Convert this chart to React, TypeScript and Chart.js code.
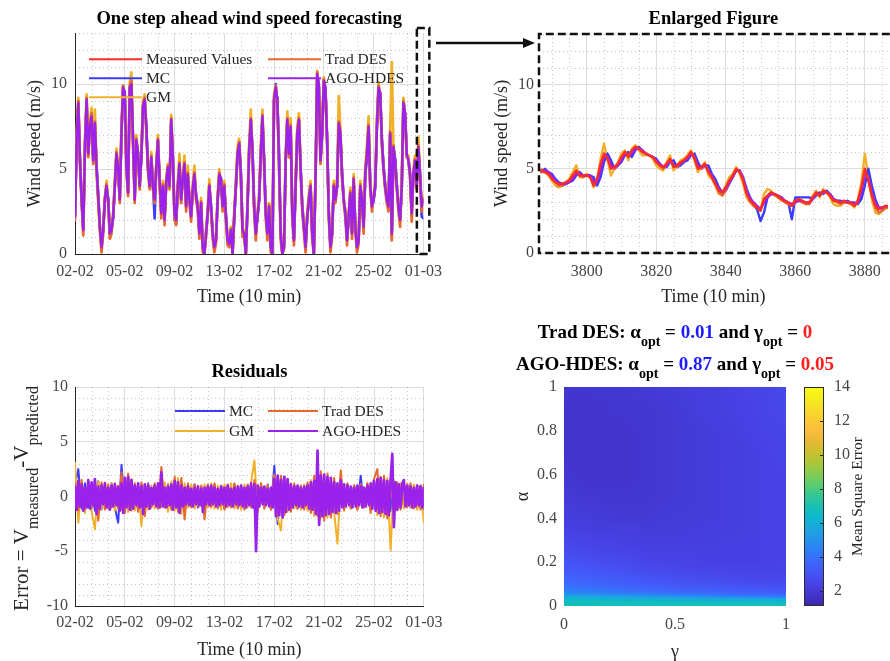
import React, { useEffect, useRef } from 'react';
import { Chart, registerables } from 'chart.js';

Chart.register(...registerables);

const SERIF = '"Liberation Serif", "Times New Roman", Times, serif';
const TXT = '#262626';
const TICK = '#454545';
const GRID_MAJOR = '#dddddd';
const GRID_MINOR = 'rgba(0,0,0,0.22)';

const C_MEASURED = '#ff2a2a';
const C_TRAD = '#e8692c';
const C_MC = '#3c3cff';
const C_AGO = '#9a22ea';
const C_GM = '#f0b02a';

// ---------- axis ticks ----------
const dateLabels = ['02-02', '05-02', '09-02', '13-02', '17-02', '21-02', '25-02', '01-03'];
const dateTicks = [0, 1, 2, 3, 4, 5, 6, 7];
const speedTicks = [0, 5, 10];
const residTicks = [-10, -5, 0, 5, 10];
const zoomTicks = [3800, 3820, 3840, 3860, 3880];
const gammaTicks = [0, 0.5, 1];
const alphaTicks = [0, 0.2, 0.4, 0.6, 0.8, 1];
const mseTicks = [2, 4, 6, 8, 10, 12, 14];

// ---------- one step ahead forecasting (wind speed, m/s), day axis 0..7 ----------
const wsAgoHdes = [
  2.2, 6.7, 8.9, 5.5, 3.2, 1.4, 6.3, 9.1, 5.9, 7.5,
  8.1, 5.5, 7.7, 5.1, 3.4, 1.6, 0.4, 1.4, 3.2, 4.0,
  3.2, 1.2, 1.4, 2.2, 4.0, 5.9, 5.1, 3.2, 7.1, 9.8,
  9.5, 5.1, 3.6, 9.8, 10.0, 6.7, 3.2, 6.7, 5.9, 4.0,
  5.7, 8.7, 9.1, 7.5, 5.1, 4.0, 5.7, 4.0, 3.2, 5.1,
  6.7, 4.4, 2.4, 4.0, 2.0, 4.2, 5.1, 4.0, 7.9, 5.7,
  2.4, 2.0, 4.0, 5.3, 3.2, 4.4, 5.3, 2.8, 4.7, 3.2,
  2.2, 3.8, 4.7, 3.4, 2.8, 1.2, 3.0, 0.4, 0.0, 1.2,
  2.4, 4.0, 2.8, 1.2, 0.4, 0.8, 3.2, 4.7, 4.4, 2.8,
  4.0, 2.2, 0.8, 0.6, 1.4, 0.0, 2.2, 4.0, 5.9, 6.5,
  4.7, 1.4, 1.2, 0.0, 2.8, 6.1, 7.9, 6.1, 2.8, 1.2,
  2.2, 3.2, 5.9, 8.1, 5.5, 2.4, 1.2, 2.8, 0.4, 0.0,
  9.1, 9.8, 9.1, 5.5, 1.2, 0.0, 0.4, 5.5, 7.9, 5.9,
  7.5, 2.4, 0.8, 4.0, 7.1, 7.9, 5.1, 2.8, 1.6, 0.4,
  2.2, 3.2, 4.0, 1.2, 0.0, 4.4, 10.6, 10.0, 5.5, 7.1,
  10.2, 9.8, 6.7, 2.4, 0.4, 1.2, 4.0, 3.2, 4.0, 7.7,
  7.1, 4.7, 3.2, 2.4, 0.8, 2.2, 3.6, 1.2, 4.4, 1.6,
  0.4, 0.8, 4.0, 3.2, 1.6, 4.7, 5.9, 7.5, 4.0, 2.8,
  3.2, 4.0, 7.5, 9.8, 9.5, 6.7, 5.1, 4.0, 3.2, 2.8,
  7.1, 1.2, 6.3, 5.5, 4.0, 2.8, 2.0, 4.0, 8.9, 8.3,
  5.9, 5.5, 4.7, 2.4, 4.7, 5.5, 4.0, 6.3, 4.7, 2.8,
  3.2,
];
const wsMeasured = [
  2.2, 6.7, 8.8, 5.5, 3.2, 1.4, 6.3, 9.0, 5.9, 7.5,
  8.1, 5.5, 7.7, 5.1, 3.4, 1.6, 0.4, 1.4, 3.2, 4.0,
  3.2, 1.2, 1.4, 2.2, 4.0, 5.9, 5.1, 3.2, 7.1, 9.7,
  9.5, 5.1, 3.6, 9.8, 9.8, 6.7, 3.2, 6.7, 5.9, 4.0,
  5.7, 8.7, 9.0, 7.5, 5.1, 4.0, 5.7, 4.0, 3.2, 5.1,
  6.7, 4.4, 2.4, 4.0, 2.0, 4.2, 5.1, 4.0, 7.8, 5.7,
  2.4, 2.0, 4.0, 5.3, 3.2, 4.4, 5.3, 2.8, 4.7, 3.2,
  2.2, 3.8, 4.7, 3.4, 2.8, 1.2, 3.0, 0.4, 0.0, 1.2,
  2.4, 4.0, 2.8, 1.2, 0.4, 0.8, 3.2, 4.7, 4.4, 2.8,
  4.0, 2.2, 0.8, 0.6, 1.4, 0.0, 2.2, 4.0, 5.9, 6.5,
  4.7, 1.4, 1.2, 0.0, 2.8, 6.1, 7.9, 6.1, 2.8, 1.2,
  2.2, 3.2, 5.9, 8.0, 5.5, 2.4, 1.2, 2.8, 0.4, 0.0,
  9.0, 9.7, 9.1, 5.5, 1.2, 0.0, 0.4, 5.5, 7.9, 5.9,
  7.5, 2.4, 0.8, 4.0, 7.1, 7.9, 5.1, 2.8, 1.6, 0.4,
  2.2, 3.2, 4.0, 1.2, 0.0, 4.4, 10.3, 10.0, 5.5, 7.1,
  10.1, 9.8, 6.7, 2.4, 0.4, 1.2, 4.0, 3.2, 4.0, 7.7,
  7.1, 4.7, 3.2, 2.4, 0.8, 2.2, 3.6, 1.2, 4.4, 1.6,
  0.4, 0.8, 4.0, 3.2, 1.6, 4.7, 5.9, 7.5, 4.0, 2.8,
  3.2, 4.0, 7.5, 9.7, 9.5, 6.7, 5.1, 4.0, 3.2, 2.8,
  7.1, 1.0, 6.3, 5.5, 4.0, 2.8, 2.0, 4.0, 8.8, 8.3,
  5.9, 5.5, 4.7, 2.4, 4.7, 5.5, 4.0, 6.3, 4.7, 2.8,
  3.2,
];
const wsGm = [
  4.5, 6.9, 9.2, 5.4, 3.1, 1.5, 6.6, 9.4, 5.8, 7.7,
  8.6, 5.3, 8.5, 5.0, 3.2, 1.6, 0.5, 1.6, 3.3, 4.3,
  3.0, 1.3, 1.5, 2.4, 4.2, 6.2, 4.9, 3.3, 7.5, 9.9,
  9.4, 4.9, 3.8, 10.1, 10.7, 6.4, 3.3, 7.0, 5.7, 4.1,
  6.0, 9.0, 9.4, 7.2, 4.9, 4.1, 6.0, 3.9, 3.3, 5.4,
  7.0, 4.2, 2.5, 4.3, 2.1, 4.5, 5.3, 3.9, 8.2, 5.5,
  2.5, 2.1, 4.3, 5.9, 3.1, 4.7, 5.8, 2.7, 5.2, 3.1,
  2.3, 4.1, 5.2, 3.2, 2.9, 1.3, 3.3, 0.5, 0.1, 1.4,
  2.6, 4.4, 2.6, 1.3, 0.5, 1.0, 3.5, 5.0, 4.2, 2.9,
  4.3, 2.1, 0.9, 0.7, 1.6, 0.1, 2.5, 4.3, 6.3, 6.8,
  4.5, 1.5, 1.4, 0.1, 3.1, 6.5, 8.5, 5.9, 2.7, 1.3,
  2.4, 3.5, 6.3, 8.5, 5.2, 2.5, 1.4, 3.0, 0.5, 0.1,
  9.4, 9.9, 8.8, 5.2, 1.3, 0.1, 0.6, 5.9, 8.4, 5.7,
  8.0, 2.3, 1.0, 4.3, 7.5, 8.3, 4.9, 2.9, 1.8, 0.5,
  2.4, 3.5, 4.3, 1.3, 0.1, 4.8, 10.8, 9.8, 5.3, 7.5,
  10.4, 9.6, 6.4, 2.5, 0.5, 1.4, 4.3, 3.1, 4.4, 9.3,
  7.4, 4.5, 3.3, 2.5, 1.0, 2.4, 3.9, 1.3, 4.7, 1.7,
  0.5, 1.0, 4.3, 3.1, 1.8, 5.1, 6.4, 8.1, 3.8, 2.9,
  3.4, 4.3, 8.0, 10.1, 9.3, 6.4, 5.0, 4.1, 3.0, 3.0,
  7.4, 11.3, 6.0, 5.3, 4.2, 2.7, 2.2, 4.4, 9.2, 8.1,
  5.7, 5.8, 4.5, 2.5, 5.0, 5.8, 3.9, 6.9, 4.5, 2.9,
  3.4,
];
const wsTradDes = [
  2.0, 6.8, 9.0, 5.3, 3.0, 1.1, 6.4, 9.2, 5.7, 7.6,
  8.3, 5.3, 7.8, 4.9, 3.1, 1.3, 0.1, 1.2, 3.3, 4.1,
  3.0, 0.9, 1.2, 2.3, 4.1, 6.0, 4.9, 3.0, 7.2, 9.9,
  9.4, 4.9, 3.4, 9.9, 10.2, 6.5, 3.0, 6.8, 5.7, 3.8,
  5.8, 8.8, 9.2, 7.3, 4.9, 3.8, 5.8, 3.8, 3.0, 5.2,
  6.8, 4.2, 2.1, 4.1, 1.7, 4.3, 5.2, 3.8, 8.0, 5.5,
  2.1, 1.7, 4.1, 5.4, 3.0, 4.5, 5.4, 2.5, 4.8, 3.0,
  1.9, 3.9, 4.8, 3.2, 2.5, 0.9, 3.1, 0.1, 0.0, 1.0,
  2.5, 4.1, 2.5, 0.9, 0.1, 0.6, 3.3, 4.8, 4.2, 2.5,
  4.1, 1.9, 0.5, 0.4, 1.5, 0.0, 2.3, 4.1, 6.0, 6.6,
  4.5, 1.0, 1.0, 0.0, 2.9, 6.2, 8.0, 5.9, 2.5, 0.8,
  2.3, 3.3, 6.0, 8.2, 5.3, 2.1, 0.8, 2.9, 0.1, 0.0,
  9.2, 9.9, 8.9, 5.3, 0.8, 0.0, 0.3, 5.6, 8.0, 5.7,
  7.6, 2.1, 0.5, 4.1, 7.2, 8.0, 4.9, 2.5, 1.3, 0.1,
  2.3, 3.3, 4.1, 0.8, 0.0, 4.5, 10.7, 9.8, 5.3, 7.2,
  10.3, 9.6, 6.5, 2.1, 0.1, 1.0, 4.1, 3.0, 4.1, 7.8,
  7.2, 4.5, 3.0, 2.1, 0.5, 2.3, 3.7, 0.9, 4.5, 1.3,
  0.1, 0.6, 4.1, 3.0, 1.2, 4.8, 6.0, 7.6, 3.8, 2.5,
  3.3, 4.1, 7.6, 9.9, 9.3, 6.5, 4.9, 3.8, 3.0, 2.5,
  7.2, 0.8, 6.4, 5.3, 3.8, 2.5, 1.6, 4.1, 9.0, 8.1,
  5.7, 5.6, 4.5, 1.9, 4.8, 5.6, 3.8, 6.4, 4.5, 2.5,
  3.3,
];
const wsMc = [
  2.3, 6.6, 9.0, 5.6, 3.3, 1.5, 6.2, 9.0, 6.0, 7.4,
  8.0, 5.6, 7.6, 5.2, 3.5, 1.7, 0.5, 1.5, 3.1, 3.9,
  3.3, 1.3, 1.5, 2.1, 3.9, 5.8, 5.2, 3.3, 7.0, 9.9,
  9.4, 5.2, 3.7, 9.7, 9.9, 6.8, 3.3, 6.6, 6.0, 4.1,
  5.6, 8.6, 9.2, 7.4, 5.2, 4.1, 5.6, 4.1, 2.1, 5.0,
  6.6, 4.5, 2.5, 3.9, 2.1, 4.1, 5.0, 4.1, 7.8, 5.8,
  2.0, 1.8, 3.9, 5.2, 3.3, 4.3, 5.2, 2.9, 4.6, 3.3,
  2.3, 3.7, 4.6, 3.5, 2.9, 1.3, 2.9, 0.5, 0.1, 1.3,
  2.3, 3.9, 2.9, 1.3, 0.5, 0.9, 3.1, 4.6, 4.5, 2.9,
  3.9, 2.3, 0.9, 0.7, 1.5, 0.1, 2.1, 3.9, 5.8, 6.4,
  4.8, 1.5, 1.3, 0.1, 2.7, 6.0, 7.8, 6.2, 2.9, 1.3,
  2.1, 3.1, 5.8, 8.0, 5.6, 2.5, 1.3, 2.7, 0.5, 0.1,
  9.0, 10.0, 9.0, 6.1, 1.3, 0.1, 0.5, 5.4, 7.8, 6.4,
  7.4, 2.5, 0.9, 3.9, 7.0, 7.8, 5.2, 2.9, 1.7, 0.5,
  2.1, 3.1, 4.1, 1.3, 0.1, 4.3, 10.5, 9.9, 5.6, 7.0,
  10.1, 9.7, 6.8, 2.5, 0.5, 1.3, 3.9, 3.3, 3.9, 7.6,
  7.0, 4.8, 3.3, 2.5, 0.9, 2.1, 3.5, 1.3, 4.3, 1.7,
  0.5, 0.9, 3.9, 3.3, 1.7, 4.6, 5.8, 7.4, 4.1, 2.9,
  3.1, 3.9, 7.4, 9.7, 9.4, 6.8, 5.2, 4.1, 3.3, 2.9,
  7.0, 1.3, 6.2, 5.6, 4.1, 2.9, 2.1, 3.9, 9.1, 8.2,
  5.8, 5.6, 4.8, 2.5, 4.6, 5.6, 4.1, 6.2, 4.8, 2.2,
  2.1,
];
const zoomBoxDays = [6.87, 7.12];
const zoomBoxTop = 13.3;

// ---------- enlarged window (time index 3787..3887, m/s) ----------
const zoomStart = 3787;
const zoomEnd = 3887;
const zMeasured = [
  4.9, 4.8, 4.7, 4.4, 4.2, 4.1, 4.1, 4.2, 4.3, 4.6,
  4.9, 4.6, 4.6, 4.6, 4.5, 4.0, 4.4, 5.3, 5.9, 5.6,
  5.0, 5.1, 5.3, 5.7, 6.0, 5.7, 6.1, 6.3, 6.2, 6.0,
  5.9, 5.8, 5.7, 5.4, 5.2, 5.1, 5.3, 5.6, 5.1, 5.2,
  5.4, 5.5, 5.7, 6.0, 5.6, 5.0, 5.1, 5.3, 4.8, 4.5,
  4.1, 3.7, 3.6, 3.9, 4.3, 4.6, 5.0, 4.8, 4.3, 3.5,
  3.1, 2.9, 2.7, 2.5, 3.2, 3.4, 3.6, 3.5, 3.4, 3.2,
  3.1, 3.0, 2.8, 3.1, 3.2, 3.1, 3.0, 3.0, 3.3, 3.6,
  3.4, 3.7, 3.6, 3.4, 3.1, 3.1, 3.0, 3.1, 3.0, 3.0,
  2.8, 3.1, 3.9, 5.0, 4.3, 3.4, 2.8, 2.6, 2.7, 2.8,
  2.7,
];
const zAgoHdes = [
  4.9, 4.9, 4.8, 4.6, 4.3, 4.1, 4.1, 4.1, 4.2, 4.4,
  4.7, 4.7, 4.6, 4.6, 4.6, 4.2, 4.2, 4.9, 5.7, 5.7,
  5.2, 5.1, 5.2, 5.5, 5.9, 5.8, 5.9, 6.2, 6.2, 6.1,
  5.9, 5.8, 5.7, 5.5, 5.3, 5.1, 5.2, 5.5, 5.2, 5.2,
  5.3, 5.5, 5.6, 5.9, 5.7, 5.2, 5.1, 5.2, 4.9, 4.6,
  4.2, 3.8, 3.6, 3.8, 4.2, 4.5, 4.9, 4.9, 4.4, 3.7,
  3.2, 3.0, 2.8, 2.6, 3.0, 3.3, 3.5, 3.5, 3.4, 3.3,
  3.1, 3.0, 2.9, 3.0, 3.1, 3.1, 3.0, 3.0, 3.2, 3.5,
  3.5, 3.6, 3.6, 3.5, 3.2, 3.1, 3.0, 3.1, 3.0, 3.0,
  2.9, 3.0, 3.6, 4.7, 4.4, 3.6, 3.0, 2.7, 2.7, 2.8,
  2.8,
];
const zMc = [
  4.8, 5.0, 4.8, 4.7, 4.4, 4.2, 4.1, 4.1, 4.2, 4.3,
  4.6, 4.8, 4.6, 4.6, 4.6, 4.5, 4.0, 4.5, 5.4, 5.9,
  5.5, 5.0, 5.2, 5.4, 5.8, 6.0, 5.7, 6.1, 6.3, 6.1,
  5.9, 5.8, 5.7, 5.6, 5.3, 5.1, 5.1, 5.4, 5.5, 5.1,
  5.2, 5.4, 5.5, 5.8, 5.9, 5.4, 5.0, 5.2, 5.2, 4.7,
  4.4, 3.9, 3.6, 3.7, 4.1, 4.5, 4.9, 4.9, 4.5, 3.8,
  3.3, 2.9, 2.6, 1.9, 2.4, 3.3, 3.5, 3.5, 3.4, 3.3,
  3.1, 3.0, 2.0, 3.3, 3.3, 3.3, 3.3, 3.3, 3.2, 3.4,
  3.6, 3.5, 3.7, 3.5, 3.2, 3.1, 3.1, 3.0, 3.1, 3.0,
  3.0, 2.9, 3.2, 4.0, 5.0, 4.0, 3.2, 2.7, 2.6, 2.7,
  2.8,
];
const zGm = [
  5.0, 4.8, 4.6, 4.3, 4.0, 3.9, 4.0, 4.2, 4.4, 4.8,
  5.2, 4.5, 4.5, 4.7, 4.6, 3.9, 4.2, 5.6, 6.5, 5.5,
  4.6, 5.0, 5.4, 5.9, 6.1, 5.5, 6.2, 6.4, 6.1, 5.8,
  5.8, 5.8, 5.6, 5.2, 5.0, 4.9, 5.4, 5.8, 4.9, 5.2,
  5.5, 5.6, 5.8, 6.1, 5.5, 4.8, 5.1, 5.4, 4.6, 4.4,
  4.0, 3.5, 3.5, 4.0, 4.5, 4.7, 5.1, 4.7, 4.1, 3.3,
  3.0, 2.8, 2.6, 2.6, 3.5, 3.8, 3.7, 3.4, 3.3, 3.1,
  3.1, 2.9, 2.8, 3.2, 3.2, 3.0, 2.9, 2.9, 3.4, 3.7,
  3.3, 3.8, 3.6, 3.3, 2.9, 2.8, 2.8, 3.0, 3.0, 2.9,
  2.7, 3.2, 4.2, 5.9, 4.5, 3.2, 2.4, 2.3, 2.5, 2.7,
  2.6,
];
const zTradDes = [
  4.8, 4.8, 4.7, 4.5, 4.2, 4.0, 4.0, 4.1, 4.3, 4.6,
  4.8, 4.6, 4.5, 4.6, 4.5, 4.1, 4.3, 5.1, 5.8, 5.7,
  5.1, 5.0, 5.2, 5.6, 6.0, 5.8, 6.0, 6.3, 6.2, 6.0,
  5.9, 5.8, 5.7, 5.5, 5.2, 5.0, 5.2, 5.5, 5.2, 5.1,
  5.3, 5.5, 5.7, 6.0, 5.7, 5.1, 5.0, 5.2, 4.9, 4.5,
  4.1, 3.6, 3.4, 3.7, 4.2, 4.5, 4.9, 4.9, 4.4, 3.6,
  3.1, 2.8, 2.7, 2.6, 3.0, 3.4, 3.6, 3.5, 3.3, 3.2,
  3.0, 2.9, 2.8, 3.0, 3.1, 3.0, 2.9, 2.9, 3.2, 3.5,
  3.4, 3.6, 3.6, 3.4, 3.1, 3.0, 2.9, 3.0, 3.0, 2.9,
  2.8, 3.0, 3.8, 4.8, 4.4, 3.5, 2.7, 2.4, 2.5, 2.7,
  2.7,
];

// ---------- residuals (m/s), day axis 0..7 ----------
const resAgoHdes = [
  0.9, -1.2, 1.4, -0.9, 1.1, -1.3, 0.8, -1.0, 1.5, -1.1,
  1.3, -0.8, 1.6, -1.6, 0.9, -1.1, 1.0, -0.7, 1.2, -1.0,
  0.8, -1.2, 1.0, -0.9, 1.1, -0.8, 0.9, -1.3, 1.2, -1.5,
  1.7, -1.0, 1.8, -1.2, 1.5, -1.1, 1.0, -0.8, 1.2, -1.0,
  0.9, -1.6, 1.1, -0.9, 1.0, -1.1, 0.8, -0.7, 1.0, -0.9,
  1.2, -1.0, 2.2, -0.9, 0.8, -1.0, 0.9, -0.8, 1.1, -1.2,
  1.4, -1.0, 1.3, -1.5, 1.0, -0.9, 0.8, -0.7, 0.9, -0.8,
  0.7, -0.9, 0.8, -0.7, 0.9, -0.8, 0.7, -1.4, 0.8, -0.7,
  0.9, -0.8, 1.0, -0.7, 0.8, -0.9, 0.7, -0.8, 0.9, -0.7,
  0.8, -0.9, 1.0, -0.8, 0.7, -0.9, 0.8, -0.7, 0.9, -0.8,
  1.0, -0.9, 0.8, -1.0, 0.9, -0.8, 1.2, -1.0, 1.1, -5.0,
  1.0, -0.9, 0.8, -0.7, 0.9, -0.8, 0.7, -0.9, 0.8, -1.0,
  1.6, -1.8, 1.9, -1.7, 1.5, -1.9, 1.8, -1.4, 1.6, -1.2,
  1.1, -1.0, 0.9, -0.8, 1.0, -0.9, 0.8, -1.0, 0.9, -0.8,
  1.0, -1.1, 1.3, -1.2, 1.4, -1.6, 4.2, -2.6, 1.9, -1.8,
  2.0, -1.7, 1.8, -1.6, 1.7, -1.4, 1.3, -1.5, 1.2, -1.3,
  1.5, -1.0, 1.1, -0.9, 1.0, -0.8, 0.9, -1.0, 0.8, -0.9,
  1.0, -0.8, 0.9, -1.0, 0.8, -0.9, 1.0, -0.8, 1.2, -1.1,
  1.4, -1.3, 1.6, -1.5, 1.7, -1.4, 1.5, -1.6, 1.4, -1.7,
  1.5, 3.9, -2.8, 1.3, -1.2, 1.1, -1.0, 1.2, 1.5, -0.9,
  1.0, -0.8, 0.9, -1.0, 0.8, -0.9, 1.0, -0.8, 0.9, -1.0,
  0.8,
];
const resGm = [
  3.1, -2.4, 1.3, -1.5, 1.2, -1.4, -3.0, 1.4, -1.2, 1.3,
  -1.1, 1.2, -1.3, 1.0, -1.2, 1.5, -1.4, 1.6, -1.3, 1.2,
  -2.7, 1.1, -1.2, 1.0, -1.1, 1.2, -1.0, 1.3, -1.4, 1.4,
  -1.3, 1.7, -1.6, 1.2, -1.0, 1.1, -1.1, 1.0, -0.9, 1.1,
  -1.0, 1.2, -1.1, 1.0, -1.2, 1.1, -1.0, 1.2, -1.1, 1.0,
  -1.2, 1.1, -1.0, 1.3, 3.3, -1.5, 1.2, -1.1, 1.0, -1.2,
  1.9, -2.0, -3.1, 1.8, -1.4, 1.2, -1.1, 1.0, -1.2, 1.1,
  -1.3, 1.5, -1.8, 2.2, -2.0, 2.0, -1.9, 1.6, -1.5, -4.3,
  1.6, -1.2, 1.1, -1.1, 1.0, -1.2, 1.1, -1.0, 1.2, -1.3,
  1.6, -1.7, 1.8, -1.9, 1.7, -4.9, 1.5, -1.3, 1.2, -1.1,
  1.2, -1.0, 1.1, -1.2, 1.0, -2.4,
];
const resTradDes = [
  1.2, -1.3, 1.5, -1.2, 1.4, -1.1, 1.6, -2.2, 1.3, -1.2,
  1.1, -1.0, 1.2, -1.1, 2.2, -1.5, 2.1, -1.3, 1.2, -1.4,
  1.3, -1.8, 1.1, -1.0, 1.2, -1.1, 2.7, -1.0, 1.1, -1.2,
  1.8, -1.4, 1.7, -2.1, 1.2, -1.0, 1.1, -0.9, 1.0, -2.1,
  1.1, -1.0, 1.2, -1.1, 1.0, -1.2, 1.1, -1.0, 1.2, -1.1,
  1.0, -1.2, 1.1, -1.0, 1.5, -1.3, 1.2, -1.1, 1.0, -1.2,
  2.0, -1.8, 1.9, -1.7, 1.6, -1.4, 1.2, -1.1, 1.0, -1.2,
  1.3, -1.5, 1.9, -1.8, 2.3, -2.2, 2.1, -1.9, 1.7, -1.6,
  2.4, -1.3, 1.2, -1.1, 1.0, -1.2, 1.1, -1.0, 1.2, -1.5,
  1.6, 2.5, -1.8, 1.9, -2.0, 1.6, -1.4, 1.3, -1.2, 1.1,
  -1.0, 1.2, -1.1, 1.0, -1.2, 1.1,
];
const resMc = [
  1.0, 2.5, -1.1, 1.2, -1.0, 1.1, -1.3, 1.4, -1.2, 1.0,
  -1.1, 1.2, -1.0, -2.4, 2.9, -1.2, 1.3, -1.1, 1.0, -1.2,
  1.1, -1.0, 1.2, -0.9, 1.0, -1.1, 1.2, -1.0, 1.1, -0.9,
  1.3, -1.2, 1.4, -1.3, 1.0, -0.9, 1.1, -1.0, 0.9, -1.1,
  1.0, -0.9, 1.1, -1.0, 0.9, -1.1, 1.0, -0.9, 1.1, -1.0,
  0.9, -1.1, 1.0, -0.9, 1.2, -1.1, 1.0, -0.9, 1.1, -1.0,
  2.8, -2.5, 1.8, -1.6, 1.4, -1.2, 1.0, -1.1, 0.9, -1.0,
  1.1, -1.3, 1.6, -1.7, 1.8, -1.6, 1.5, -1.4, 1.3, -1.2,
  1.4, -1.0, 1.1, -0.9, 1.0, -1.1, 1.9, -1.0, 1.1, -1.2,
  1.4, -1.5, 1.6, -1.4, 1.5, -1.3, 1.2, -1.1, 1.0, -0.9,
  1.1, -1.0, 0.9, -1.1, 1.0, -1.2,
];

// ---------- MSE surface over (gamma, alpha) ----------
const gammaGrid = [0, 0.125, 0.25, 0.375, 0.5, 0.625, 0.75, 0.875, 1];
const alphaGrid = [0, 0.01, 0.02, 0.03, 0.04, 0.05, 0.06, 0.08, 0.1, 0.12, 0.15, 0.18, 0.22, 0.26, 0.3, 0.35, 0.4, 0.5, 0.6, 0.7, 0.8, 0.9, 1];
const mseRows = [
  [6.9, 6.9, 6.9, 6.9, 6.9, 6.9, 6.9, 6.9, 6.9],
  [6.8, 6.8, 6.8, 6.8, 6.8, 6.8, 6.8, 6.7, 6.7],
  [6.7, 6.7, 6.6, 6.6, 6.6, 6.5, 6.5, 6.4, 6.4],
  [6.5, 6.4, 6.3, 6.2, 6.1, 6.0, 5.9, 5.8, 5.7],
  [6.0, 5.9, 5.7, 5.5, 5.3, 5.1, 4.9, 4.8, 4.7],
  [5.3, 5.1, 4.9, 4.7, 4.5, 4.3, 4.1, 4.0, 3.9],
  [4.7, 4.5, 4.3, 4.1, 3.9, 3.8, 3.6, 3.5, 3.4],
  [4.2, 4.0, 3.8, 3.6, 3.4, 3.3, 3.2, 3.1, 3.0],
  [3.9, 3.7, 3.5, 3.3, 3.1, 3.0, 2.9, 2.8, 2.8],
  [3.7, 3.5, 3.3, 3.1, 2.9, 2.8, 2.7, 2.6, 2.6],
  [3.4, 3.2, 3.0, 2.8, 2.7, 2.6, 2.5, 2.5, 2.5],
  [3.1, 3.0, 2.8, 2.6, 2.5, 2.4, 2.4, 2.4, 2.4],
  [2.9, 2.7, 2.6, 2.4, 2.4, 2.3, 2.3, 2.3, 2.4],
  [2.7, 2.5, 2.4, 2.3, 2.3, 2.3, 2.3, 2.3, 2.4],
  [2.5, 2.4, 2.3, 2.2, 2.2, 2.2, 2.3, 2.3, 2.4],
  [2.3, 2.2, 2.2, 2.1, 2.1, 2.2, 2.2, 2.3, 2.4],
  [2.2, 2.1, 2.0, 2.0, 2.1, 2.1, 2.2, 2.3, 2.4],
  [2.0, 1.9, 1.9, 1.9, 2.0, 2.1, 2.2, 2.3, 2.4],
  [1.9, 1.8, 1.8, 1.9, 2.0, 2.1, 2.2, 2.3, 2.4],
  [1.8, 1.8, 1.8, 1.9, 2.0, 2.1, 2.2, 2.3, 2.5],
  [1.8, 1.8, 1.8, 1.9, 2.0, 2.1, 2.2, 2.4, 2.5],
  [1.8, 1.8, 1.9, 1.9, 2.0, 2.2, 2.3, 2.4, 2.6],
  [1.9, 1.9, 1.9, 2.0, 2.1, 2.2, 2.3, 2.5, 2.6],
];
const mseMin = 1.12;
const mseMax = 14;

const parulaStops: [number, string][] = [
  [0.0, '#3E26A8'], [0.05, '#4234CC'], [0.1, '#4743E6'], [0.15, '#4554F6'], [0.2, '#3E66FC'],
  [0.25, '#2E7DF8'], [0.3, '#2691EC'], [0.35, '#1EA5E0'], [0.4, '#0DB6D0'], [0.45, '#17BFB5'],
  [0.5, '#32C696'], [0.55, '#58CB74'], [0.6, '#82CC55'], [0.65, '#A8C83C'], [0.7, '#CAC02E'],
  [0.75, '#E6B934'], [0.8, '#FABD3D'], [0.85, '#FCCB34'], [0.9, '#F6DC28'], [0.95, '#F5ED1B'],
  [1.0, '#F9FB15'],
];

function hexRgb(h: string) {
  return [parseInt(h.slice(1, 3), 16), parseInt(h.slice(3, 5), 16), parseInt(h.slice(5, 7), 16)];
}

function parulaRgb(v: number) {
  let p = (v - mseMin) / (mseMax - mseMin);
  p = Math.max(0, Math.min(1, p));
  for (let i = 1; i < parulaStops.length; i++) {
    if (p <= parulaStops[i][0]) {
      const [p0, c0] = parulaStops[i - 1];
      const [p1, c1] = parulaStops[i];
      const t = (p - p0) / (p1 - p0);
      const a = hexRgb(c0), b = hexRgb(c1);
      return [0, 1, 2].map((k) => Math.round(a[k] + (b[k] - a[k]) * t));
    }
  }
  return hexRgb(parulaStops[parulaStops.length - 1][1]);
}
function parula(v: number) {
  const c = parulaRgb(v);
  return `rgb(${c[0]},${c[1]},${c[2]})`;
}

function locate(grid: number[], v: number): [number, number] {
  let i = 0;
  while (i < grid.length - 2 && v > grid[i + 1]) i++;
  const t = (v - grid[i]) / (grid[i + 1] - grid[i]);
  return [i, Math.max(0, Math.min(1, t))];
}

function seq(values: number[], x0: number, x1: number) {
  const n = values.length;
  return values.map((y, i) => ({ x: x0 + ((x1 - x0) * i) / (n - 1), y }));
}

function line(label: string, data: any[], color: string, width: number) {
  return {
    label, data, borderColor: color, backgroundColor: color, borderWidth: width,
    pointRadius: 0, tension: 0, fill: false, borderJoinStyle: 'round', borderCapStyle: 'round',
  };
}

const font = (size: number, weight?: string) => ({ family: SERIF, size, weight: weight || 'normal' });

function fixedTicks(values: number[]) {
  return (s: any) => { s.ticks = values.map((v) => ({ value: v })); };
}

function minorGrid(xStep: number, yStep: number, xMajors: number[], yMajors: number[]) {
  return {
    id: 'minorGrid',
    beforeDatasetsDraw(chart: any) {
      const { ctx, chartArea: a, scales } = chart;
      const xs = scales.x, ys = scales.y;
      const isMajor = (v: number, list: number[]) => list.some((m) => Math.abs(m - v) < 1e-6);
      ctx.save();
      ctx.strokeStyle = GRID_MINOR;
      ctx.lineWidth = 1;
      ctx.setLineDash([1, 3]);
      for (let k = Math.ceil(xs.min / xStep - 1e-9); k * xStep <= xs.max + 1e-9; k++) {
        const v = k * xStep;
        if (isMajor(v, xMajors)) continue;
        const px = Math.round(xs.getPixelForValue(v)) + 0.5;
        if (px <= a.left + 1 || px >= a.right - 1) continue;
        ctx.beginPath(); ctx.moveTo(px, a.top); ctx.lineTo(px, a.bottom); ctx.stroke();
      }
      for (let k = Math.ceil(ys.min / yStep - 1e-9); k * yStep <= ys.max + 1e-9; k++) {
        const v = k * yStep;
        if (isMajor(v, yMajors)) continue;
        const py = Math.round(ys.getPixelForValue(v)) + 0.5;
        if (py <= a.top || py >= a.bottom - 1) continue;
        ctx.beginPath(); ctx.moveTo(a.left, py); ctx.lineTo(a.right, py); ctx.stroke();
      }
      ctx.restore();
    },
  };
}

type LegItem = { label: string; color: string; col: number; row: number };

function drawLegend(chart: any, items: LegItem[], colOffsets: number[], lineLen: number, rowTop: number, rowGap: number) {
  const { ctx, chartArea: a } = chart;
  ctx.save();
  ctx.font = `15.5px ${SERIF}`;
  ctx.textBaseline = 'middle';
  ctx.textAlign = 'left';
  items.forEach((it) => {
    const x = a.left + colOffsets[it.col];
    const y = a.top + rowTop + it.row * rowGap;
    ctx.strokeStyle = it.color;
    ctx.lineWidth = 2;
    ctx.beginPath(); ctx.moveTo(x, y); ctx.lineTo(x + lineLen, y); ctx.stroke();
    ctx.fillStyle = TXT;
    ctx.fillText(it.label, x + lineLen + 4, y + 1);
  });
  ctx.restore();
}

const speedLegend: LegItem[] = [
  { label: 'Measured Values', color: C_MEASURED, col: 0, row: 0 },
  { label: 'MC', color: C_MC, col: 0, row: 1 },
  { label: 'GM', color: C_GM, col: 0, row: 2 },
  { label: 'Trad DES', color: C_TRAD, col: 1, row: 0 },
  { label: 'AGO-HDES', color: C_AGO, col: 1, row: 1 },
];
const residLegend: LegItem[] = [
  { label: 'MC', color: C_MC, col: 0, row: 0 },
  { label: 'GM', color: C_GM, col: 0, row: 1 },
  { label: 'Trad DES', color: C_TRAD, col: 1, row: 0 },
  { label: 'AGO-HDES', color: C_AGO, col: 1, row: 1 },
];

function baseOptions(titleText: string | null, titlePad: { top: number; bottom: number }, padding: any) {
  return {
    responsive: false,
    maintainAspectRatio: false,
    animation: false,
    devicePixelRatio: 1,
    events: [],
    layout: { padding },
    plugins: {
      legend: { display: false },
      tooltip: { enabled: false },
      title: titleText
        ? { display: true, text: titleText, fullSize: false, font: font(18.5, 'bold'), color: '#000', padding: titlePad }
        : { display: false },
    },
  };
}

function dateAxis(height: number, tickPad: number, titleBottom: number) {
  return {
    type: 'linear', min: 0, max: 7,
    afterBuildTicks: fixedTicks(dateTicks),
    afterFit: (s: any) => { s.height = height; },
    ticks: { callback: (_v: any, i: number) => dateLabels[i], font: font(16), color: TICK, padding: tickPad, maxRotation: 0, autoSkip: false },
    grid: { color: GRID_MAJOR, drawTicks: false, lineWidth: 1 },
    border: { color: TXT, width: 1 },
    title: { display: true, text: 'Time (10 min)', font: font(18), color: TXT, padding: { top: 0, bottom: titleBottom } },
  };
}

function speedConfig() {
  const datasets = [
    line('AGO-HDES', seq(wsAgoHdes, 0, 7), C_AGO, 2.4),
    line('Trad DES', seq(wsTradDes, 0, 7), C_TRAD, 2.7),
    line('GM', seq(wsGm, 0, 7), C_GM, 2.7),
    line('MC', seq(wsMc, 0, 7), C_MC, 2.6),
    line('Measured Values', seq(wsMeasured, 0, 7), C_MEASURED, 2.6),
  ];
  const decor = {
    id: 'speedDecor',
    afterDatasetsDraw(chart: any) {
      drawLegend(chart, speedLegend, [14, 193], 53, 26, 19);
      const { ctx, scales } = chart;
      const x0 = scales.x.getPixelForValue(zoomBoxDays[0]);
      const x1 = scales.x.getPixelForValue(zoomBoxDays[1]);
      const y0 = scales.y.getPixelForValue(zoomBoxTop);
      const y1 = scales.y.getPixelForValue(0);
      ctx.save();
      ctx.strokeStyle = '#111';
      ctx.lineWidth = 2.5;
      ctx.setLineDash([8, 4]);
      ctx.strokeRect(x0, y0, x1 - x0, y1 - y0);
      ctx.restore();
    },
  };
  const opts: any = baseOptions('One step ahead wind speed forecasting', { top: 8, bottom: 3 }, { left: 0, right: 24, top: 0, bottom: 0 });
  opts.scales = {
    x: dateAxis(56, 8, 2),
    y: {
      type: 'linear', min: 0, max: 13,
      afterBuildTicks: fixedTicks(speedTicks),
      afterFit: (s: any) => { s.width = 75; },
      ticks: { font: font(16), color: TICK, padding: 8 },
      grid: { color: GRID_MAJOR, drawTicks: false, lineWidth: 1 },
      border: { color: TXT, width: 1 },
      title: { display: true, text: 'Wind speed (m/s)', font: font(18), color: TXT, padding: { top: 24, bottom: 0 } },
    },
  };
  return { type: 'line', data: { datasets }, options: opts, plugins: [minorGrid(1 / 3, 1, dateTicks, speedTicks), decor] };
}

function zoomConfig() {
  const datasets = [
    line('Measured Values', seq(zMeasured, zoomStart, zoomEnd), C_MEASURED, 2.4),
    line('AGO-HDES', seq(zAgoHdes, zoomStart, zoomEnd), C_AGO, 2.4),
    line('Trad DES', seq(zTradDes, zoomStart, zoomEnd), C_TRAD, 2.4),
    line('MC', seq(zMc, zoomStart, zoomEnd), C_MC, 2.4),
    line('GM', seq(zGm, zoomStart, zoomEnd), C_GM, 2.4),
  ];
  const decor = {
    id: 'zoomDecor',
    afterDraw(chart: any) {
      const { ctx, chartArea: a } = chart;
      ctx.save();
      ctx.strokeStyle = '#111';
      ctx.lineWidth = 2.5;
      ctx.setLineDash([8, 4]);
      ctx.beginPath();
      ctx.moveTo(a.right + 2, a.top); ctx.lineTo(a.left, a.top); ctx.lineTo(a.left, a.bottom); ctx.lineTo(a.right + 2, a.bottom);
      ctx.stroke();
      ctx.setLineDash([]);
      const ay = a.top + 9;
      const ax0 = a.left - 103, ax1 = a.left - 4;
      ctx.lineWidth = 2.5;
      ctx.beginPath(); ctx.moveTo(ax0, ay); ctx.lineTo(ax1 - 10, ay); ctx.stroke();
      ctx.fillStyle = '#111';
      ctx.beginPath(); ctx.moveTo(ax1, ay); ctx.lineTo(ax1 - 12, ay - 5); ctx.lineTo(ax1 - 12, ay + 5); ctx.closePath(); ctx.fill();
      ctx.restore();
    },
  };
  const opts: any = baseOptions('Enlarged Figure', { top: 8, bottom: 3.8 }, { left: 0, right: 0, top: 0, bottom: 0 });
  opts.scales = {
    x: {
      type: 'linear', min: 3786.3, max: 3886.6,
      afterBuildTicks: fixedTicks(zoomTicks),
      afterFit: (s: any) => { s.height = 57; },
      ticks: { font: font(16), color: TICK, padding: 9, maxRotation: 0, autoSkip: false, callback: (v: number) => String(v) },
      grid: { color: GRID_MAJOR, drawTicks: false, lineWidth: 1 },
      border: { display: false },
      title: { display: true, text: 'Time (10 min)', font: font(18), color: TXT, padding: { top: 0, bottom: 2 } },
    },
    y: {
      type: 'linear', min: 0, max: 13,
      afterBuildTicks: fixedTicks(speedTicks),
      afterFit: (s: any) => { s.width = 109; },
      ticks: { font: font(16), color: TICK, padding: 5 },
      grid: { color: GRID_MAJOR, drawTicks: false, lineWidth: 1 },
      border: { display: false },
      title: { display: true, text: 'Wind speed (m/s)', font: font(18), color: TXT, padding: { top: 61, bottom: 0 } },
    },
  };
  return { type: 'line', data: { datasets }, options: opts, plugins: [minorGrid(5, 1, zoomTicks, speedTicks), decor] };
}

function residConfig() {
  const datasets = [
    line('AGO-HDES', seq(resAgoHdes, 0, 7), C_AGO, 2.7),
    line('Trad DES', seq(resTradDes, 0, 7), C_TRAD, 2.0),
    line('GM', seq(resGm, 0, 7), C_GM, 2.0),
    line('MC', seq(resMc, 0, 7), C_MC, 2.0),
  ];
  const decor = {
    id: 'residDecor',
    afterDatasetsDraw(chart: any) {
      drawLegend(chart, residLegend, [100, 193], 50, 24, 20);
    },
    afterDraw(chart: any) {
      const { ctx, chartArea: a } = chart;
      const segs: [string, boolean][] = [['Error = V', false], ['measured', true], ['-V', false], ['predicted', true]];
      const mainF = `21px ${SERIF}`, subF = `16px ${SERIF}`;
      ctx.save();
      let total = 0;
      const widths = segs.map(([t, sub]) => { ctx.font = sub ? subF : mainF; const w = ctx.measureText(t).width; total += w; return w; });
      ctx.translate(28, (a.top + a.bottom) / 2 + 2);
      ctx.rotate(-Math.PI / 2);
      ctx.fillStyle = TXT;
      ctx.textBaseline = 'alphabetic';
      ctx.textAlign = 'left';
      let x = -total / 2;
      segs.forEach(([t, sub], i) => {
        ctx.font = sub ? subF : mainF;
        ctx.fillText(t, x, sub ? 10 : 0);
        x += widths[i];
      });
      ctx.restore();
    },
  };
  const opts: any = baseOptions('Residuals', { top: 51, bottom: 3.8 }, { left: 0, right: 24, top: 0, bottom: 0 });
  opts.scales = {
    x: dateAxis(59, 7.5, 4),
    y: {
      type: 'linear', min: -10, max: 10,
      afterBuildTicks: fixedTicks(residTicks),
      afterFit: (s: any) => { s.width = 75; },
      ticks: { font: font(16), color: TICK, padding: 7 },
      grid: { color: GRID_MAJOR, drawTicks: false, lineWidth: 1 },
      border: { color: TXT, width: 1 },
      title: { display: false },
    },
  };
  return { type: 'line', data: { datasets }, options: opts, plugins: [minorGrid(1 / 3, 1, dateTicks, residTicks), decor] };
}

function heatConfig() {
  const decor = {
    id: 'heatDecor',
    beforeDatasetsDraw(chart: any) {
      const { ctx, chartArea: a, scales } = chart;
      const xs = scales.x, ys = scales.y;
      const x0 = Math.round(a.left), y0 = Math.round(a.top);
      const w = Math.round(a.right) - x0, h = Math.round(a.bottom) - y0;
      const img = ctx.createImageData(w, h);
      for (let py = 0; py < h; py++) {
        const al = ys.getValueForPixel(y0 + py + 0.5);
        const [r, tr] = locate(alphaGrid, al);
        for (let px = 0; px < w; px++) {
          const ga = xs.getValueForPixel(x0 + px + 0.5);
          const [c, tc] = locate(gammaGrid, ga);
          const v00 = mseRows[r][c], v01 = mseRows[r][c + 1];
          const v10 = mseRows[r + 1][c], v11 = mseRows[r + 1][c + 1];
          const v = (v00 * (1 - tc) + v01 * tc) * (1 - tr) + (v10 * (1 - tc) + v11 * tc) * tr;
          const col = parulaRgb(v);
          const k = (py * w + px) * 4;
          img.data[k] = col[0]; img.data[k + 1] = col[1]; img.data[k + 2] = col[2]; img.data[k + 3] = 255;
        }
      }
      ctx.putImageData(img, x0, y0);
    },
    afterDraw(chart: any) {
      const { ctx, chartArea: a, scales } = chart;
      const cb = scales.cb;
      const bx = a.right + 18, bw = 20;
      const top = Math.round(cb.getPixelForValue(mseMax)), bot = Math.round(cb.getPixelForValue(mseMin));
      ctx.save();
      for (let y = top; y < bot; y++) {
        ctx.fillStyle = parula(cb.getValueForPixel(y + 0.5));
        ctx.fillRect(bx, y, bw, 1);
      }
      ctx.strokeStyle = '#2b2b2b';
      ctx.lineWidth = 1;
      ctx.strokeRect(bx + 0.5, top + 0.5, bw - 1, bot - top - 1);
      mseTicks.forEach((t) => {
        const py = Math.round(cb.getPixelForValue(t)) + 0.5;
        ctx.beginPath(); ctx.moveTo(bx + bw - 4, py); ctx.lineTo(bx + bw, py); ctx.stroke();
      });
      ctx.translate(a.right + 72, (a.top + a.bottom) / 2);
      ctx.rotate(-Math.PI / 2);
      ctx.font = `15.5px ${SERIF}`;
      ctx.fillStyle = TXT;
      ctx.textAlign = 'center';
      ctx.textBaseline = 'middle';
      ctx.fillText('Mean Square Error', 0, 0);
      ctx.restore();

      const K = '#000', B = '#1c1cff', R = '#ff1c1c';
      const lines: [string, string, boolean][][] = [
        [['Trad DES: ', K, false], ['α', K, false], ['opt', K, true], [' = ', K, false], ['0.01', B, false], [' and ', K, false], ['γ', K, false], ['opt', K, true], [' = ', K, false], ['0', R, false]],
        [['AGO-HDES: ', K, false], ['α', K, false], ['opt', K, true], [' = ', K, false], ['0.87', B, false], [' and ', K, false], ['γ', K, false], ['opt', K, true], [' = ', K, false], ['0.05', R, false]],
      ];
      const baselines = [a.top - 49.5, a.top - 17.5];
      const mainF = `bold 19px ${SERIF}`, subF = `bold 14px ${SERIF}`;
      const cx = (a.left + a.right) / 2;
      ctx.save();
      ctx.textAlign = 'left';
      ctx.textBaseline = 'alphabetic';
      lines.forEach((segs, li) => {
        const widths = segs.map(([t, , sub]) => { ctx.font = sub ? subF : mainF; return ctx.measureText(t).width; });
        const total = widths.reduce((s, w) => s + w, 0);
        let x = cx - total / 2;
        segs.forEach(([t, col, sub], i) => {
          ctx.font = sub ? subF : mainF;
          ctx.fillStyle = col;
          ctx.fillText(t, x, baselines[li] + (sub ? 8 : 0));
          x += widths[i];
        });
      });
      ctx.restore();
    },
  };
  const opts: any = baseOptions(null, { top: 0, bottom: 0 }, { left: 0, right: 0, top: 77, bottom: 0 });
  opts.scales = {
    x: {
      type: 'linear', min: 0, max: 1,
      afterBuildTicks: fixedTicks(gammaTicks),
      afterFit: (s: any) => { s.height = 59; },
      ticks: { font: font(16), color: TICK, padding: 9, maxRotation: 0, autoSkip: false, callback: (v: number) => String(v) },
      grid: { display: false, drawTicks: false },
      border: { display: false },
      title: { display: true, text: 'γ', font: font(18), color: TXT, padding: { top: 0, bottom: 2 } },
    },
    y: {
      type: 'linear', min: 0, max: 1,
      afterBuildTicks: fixedTicks(alphaTicks),
      afterFit: (s: any) => { s.width = 124; },
      ticks: { font: font(16), color: TICK, padding: 7, callback: (v: number) => (v === 0 || v === 1 ? String(v) : v.toFixed(1)) },
      grid: { display: false, drawTicks: false },
      border: { display: false },
      title: { display: true, text: 'α', font: font(18), color: TXT, padding: { top: 72, bottom: 0 } },
    },
    cb: {
      type: 'linear', axis: 'y', position: 'right', min: mseMin, max: mseMax,
      afterBuildTicks: fixedTicks(mseTicks),
      afterFit: (s: any) => { s.width = 104; },
      ticks: { font: font(16), color: TICK, padding: 48 },
      grid: { display: false, drawTicks: false },
      border: { display: false },
    },
  };
  return { type: 'scatter', data: { datasets: [{ data: [] }] }, options: opts, plugins: [decor] };
}

export default function App() {
  const c1 = useRef<HTMLCanvasElement>(null);
  const c2 = useRef<HTMLCanvasElement>(null);
  const c3 = useRef<HTMLCanvasElement>(null);
  const c4 = useRef<HTMLCanvasElement>(null);

  useEffect(() => {
    const charts = [
      new Chart(c1.current as any, speedConfig() as any),
      new Chart(c2.current as any, zoomConfig() as any),
      new Chart(c3.current as any, residConfig() as any),
      new Chart(c4.current as any, heatConfig() as any),
    ];
    return () => charts.forEach((c) => c.destroy());
  }, []);

  const abs = (left: number, top: number, w: number, h: number): React.CSSProperties => ({
    position: 'absolute', left, top, width: w, height: h,
  });

  return (
    <div style={{ position: 'fixed', left: 0, top: 0, width: 890, height: 661, background: '#fff', overflow: 'hidden' }}>
      <canvas ref={c1} width={450} height={310} style={abs(0, 0, 450, 310)} />
      <canvas ref={c2} width={460} height={310} style={abs(430, 0, 460, 310)} />
      <canvas ref={c3} width={450} height={355} style={abs(0, 310, 450, 355)} />
      <canvas ref={c4} width={450} height={355} style={abs(440, 310, 450, 355)} />
    </div>
  );
}
